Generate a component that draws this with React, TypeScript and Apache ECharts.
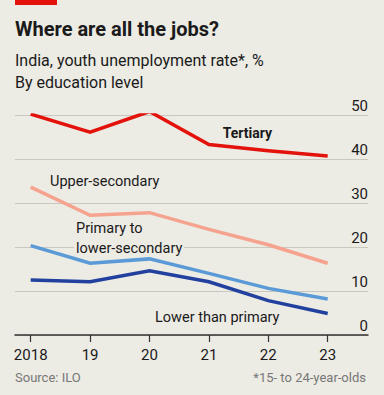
import React, { useEffect, useRef } from "react";
import * as echarts from "echarts";

const years = ["2018", "19", "20", "21", "22", "23"];
const tertiary = [50.2, 46.1, 50.8, 43.3, 41.9, 40.7];
const upperSecondary = [33.6, 27.2, 27.8, 24.0, 20.5, 16.3];
const primaryToLowerSecondary = [20.3, 16.3, 17.3, 14.0, 10.6, 8.2];
const lowerThanPrimary = [12.5, 12.1, 14.6, 12.1, 7.8, 4.9];
const yTicks = [0, 10, 20, 30, 40, 50];

const BG = "#ecebe4";
const FONT = "Roboto, 'Noto Sans', sans-serif";

export default function App() {
  const ref = useRef<HTMLDivElement>(null);
  useEffect(() => {
    if (!ref.current) return;
    document.body.style.margin = "0";
    const chart = echarts.init(ref.current, null, { renderer: "svg" });
    const mk = (name: string, data: number[], color: string, w: number) => ({
      name,
      type: "line",
      xAxisIndex: 1,
      yAxisIndex: 1,
      data,
      symbol: "none",
      lineStyle: { color, width: w, cap: "butt", join: "miter" },
      z: 5,
    });
    const txt = (text: string, x: number, y: number, size: number, weight: any, color = "#1a1a1a", extra: any = {}) => ({
      type: "text",
      x,
      y,
      z: 50,
      style: {
        text,
        fontSize: size,
        fontWeight: weight,
        fontFamily: FONT,
        fill: color,
        verticalAlign: "middle",
        ...extra,
      },
    });
    chart.setOption({
      animation: false,
      backgroundColor: BG,
      grid: [
        { left: 15, right: 16, top: 115, bottom: 60 },
        { left: 30.7, right: 56.3, top: 115, bottom: 60 },
      ],
      xAxis: [
        {
          gridIndex: 0,
          type: "value",
          min: 0,
          max: 1,
          axisLine: { show: true, lineStyle: { color: "#333", width: 1.5 } },
          axisTick: { show: false },
          axisLabel: { show: false },
          splitLine: { show: false },
        },
        {
          gridIndex: 1,
          type: "category",
          data: years,
          boundaryGap: false,
          axisLine: { show: false },
          axisTick: { show: true, length: 7, lineStyle: { color: "#333", width: 1.2 } },
          axisLabel: { show: true, fontSize: 15, fontFamily: FONT, color: "#1a1a1a", margin: 12 },
          splitLine: { show: false },
        },
      ],
      yAxis: [
        {
          gridIndex: 0,
          type: "value",
          position: "right",
          min: yTicks[0],
          max: yTicks[yTicks.length - 1],
          interval: 10,
          axisLine: { show: false },
          axisTick: { show: false },
          axisLabel: {
            inside: true,
            margin: 0,
            fontSize: 15,
            fontFamily: FONT,
            color: "#1a1a1a",
            verticalAlign: "bottom",
            align: "right",
            padding: [0, 0, 2, 0],
          },
          splitLine: { show: true, lineStyle: { color: "#c9c7c0", width: 1 } },
        },
        {
          gridIndex: 1,
          type: "value",
          min: yTicks[0],
          max: yTicks[yTicks.length - 1],
          interval: 10,
          show: false,
        },
      ],
      series: [
        mk("Upper-secondary", upperSecondary, "#f5a38e", 3.5),
        mk("Primary to lower-secondary", primaryToLowerSecondary, "#5a9ad6", 3.5),
        mk("Lower than primary", lowerThanPrimary, "#22419f", 3.5),
        mk("Tertiary", tertiary, "#e3120b", 3.5),
      ],
      graphic: [
        { type: "rect", shape: { x: 15, y: 0, width: 42, height: 5 }, style: { fill: "#e3120b" }, z: 50 },
        txt("Where are all the jobs?", 15, 29, 20, "bold"),
        txt("India, youth unemployment rate*, %", 15, 60, 16, "normal"),
        txt("By education level", 15, 82, 16, "normal"),
        txt("Tertiary", 222.7, 132.7, 14, "bold"),
        txt("Upper-secondary", 50, 181.7, 14.5, "normal"),
        txt("Primary to", 76, 228, 14.5, "normal"),
        txt("lower-secondary", 74, 248, 14.5, "normal", "#1a1a1a", { backgroundColor: BG, padding: [0, 2, 0, 2] }),
        txt("Lower than primary", 155, 317, 14.5, "normal"),
        txt("Source: ILO", 15, 377, 13, "normal", "#777"),
        txt("*15- to 24-year-olds", 366, 377, 13, "normal", "#777", { align: "right" }),
      ],
    });
    return () => chart.dispose();
  }, []);
  return <div ref={ref} style={{ width: 384, height: 395 }} />;
}
